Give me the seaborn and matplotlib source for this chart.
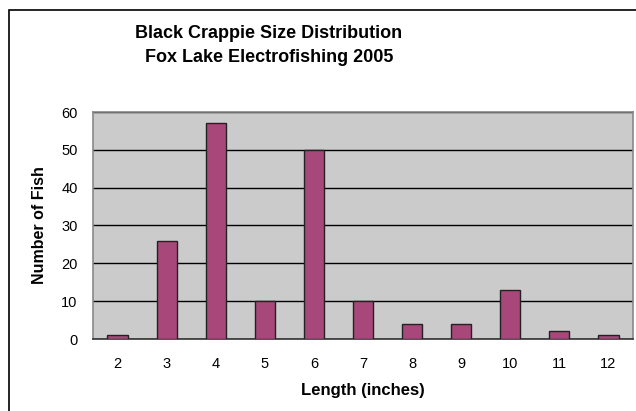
import numpy as np
import pandas as pd
import matplotlib
matplotlib.use("Agg")
import matplotlib.pyplot as plt
from matplotlib.patches import Rectangle
import seaborn as sns

# -----------------------------------
# Data
# -----------------------------------
lengths = ["2", "3", "4", "5", "6", "7", "8", "9", "10", "11", "12"]
fish_counts = [1, 26, 57, 10, 50, 10, 4, 4, 13, 2, 1]
y_ticks = [0, 10, 20, 30, 40, 50, 60]

df = pd.DataFrame({"length": lengths, "count": fish_counts})

# -----------------------------------
# Style
# -----------------------------------
sns.set_style("white")
plt.rcParams["font.family"] = ["Liberation Sans", "DejaVu Sans"]
plt.rcParams["text.color"] = "black"
plt.rcParams["xtick.color"] = "black"
plt.rcParams["ytick.color"] = "black"
plt.rcParams["xtick.labelcolor"] = "black"
plt.rcParams["ytick.labelcolor"] = "black"

W, H = 636, 411
fig = plt.figure(figsize=(W / 100, H / 100), dpi=100)
fig.patch.set_facecolor("white")

# plot area in pixels: x 93..633, y 112..339
ax = fig.add_axes([93 / W, 1 - 339 / H, (633 - 93) / W, (339 - 112) / H])
ax.set_facecolor("#cbcbcb")

sns.barplot(
    data=df,
    x="length",
    y="count",
    color="#a8487a",
    width=0.41,
    edgecolor="#222222",
    linewidth=1.0,
    saturation=1,
    ax=ax,
    zorder=3,
)

ax.set_xlim(-0.5, len(lengths) - 0.5)
ax.set_ylim(0, 60)
ax.set_yticks(y_ticks)
ax.grid(axis="y", color="black", linewidth=1.0, zorder=1)
ax.set_axisbelow(True)

# major ticks: labels only; minor ticks: marks at category boundaries
ax.tick_params(axis="x", which="major", length=0, pad=13, labelsize=10.5)
ax.set_xticks(np.arange(-0.5, len(lengths), 1.0), minor=True)
ax.tick_params(axis="x", which="minor", length=6, width=1, color="#333333", direction="out")
ax.tick_params(axis="y", length=6, width=1, color="#333333", direction="out", pad=5,
               labelsize=10.5)

for side in ["top", "right", "left"]:
    ax.spines[side].set_color("#888888")
    ax.spines[side].set_linewidth(1.2)
ax.spines["bottom"].set_color("#333333")
ax.spines["bottom"].set_linewidth(1.2)

ax.set_xlabel("")
ax.set_ylabel("")
fig.text(363 / W, 1 - 390 / H, "Length (inches)", ha="center", va="center",
         fontsize=12, fontweight="bold")
fig.text(40 / W, 1 - 225 / H, "Number of Fish", ha="center", va="center",
         fontsize=11.5, fontweight="bold", rotation=90)

fig.text(269 / W, 1 - 34 / H, "Black Crappie Size Distribution", ha="center",
         va="center", fontsize=13, fontweight="bold")
fig.text(269 / W, 1 - 57 / H, "Fox Lake Electrofishing 2005", ha="center",
         va="center", fontsize=13, fontweight="bold")

# chart frame (cut off at right and bottom)
fig.patches.append(Rectangle((9 / W, -0.1), 1.2, 1 - 10 / H + 0.1,
                             transform=fig.transFigure, fill=False,
                             edgecolor="black", linewidth=1.2))

fig.savefig("out.png", dpi=100)
plt.close(fig)
